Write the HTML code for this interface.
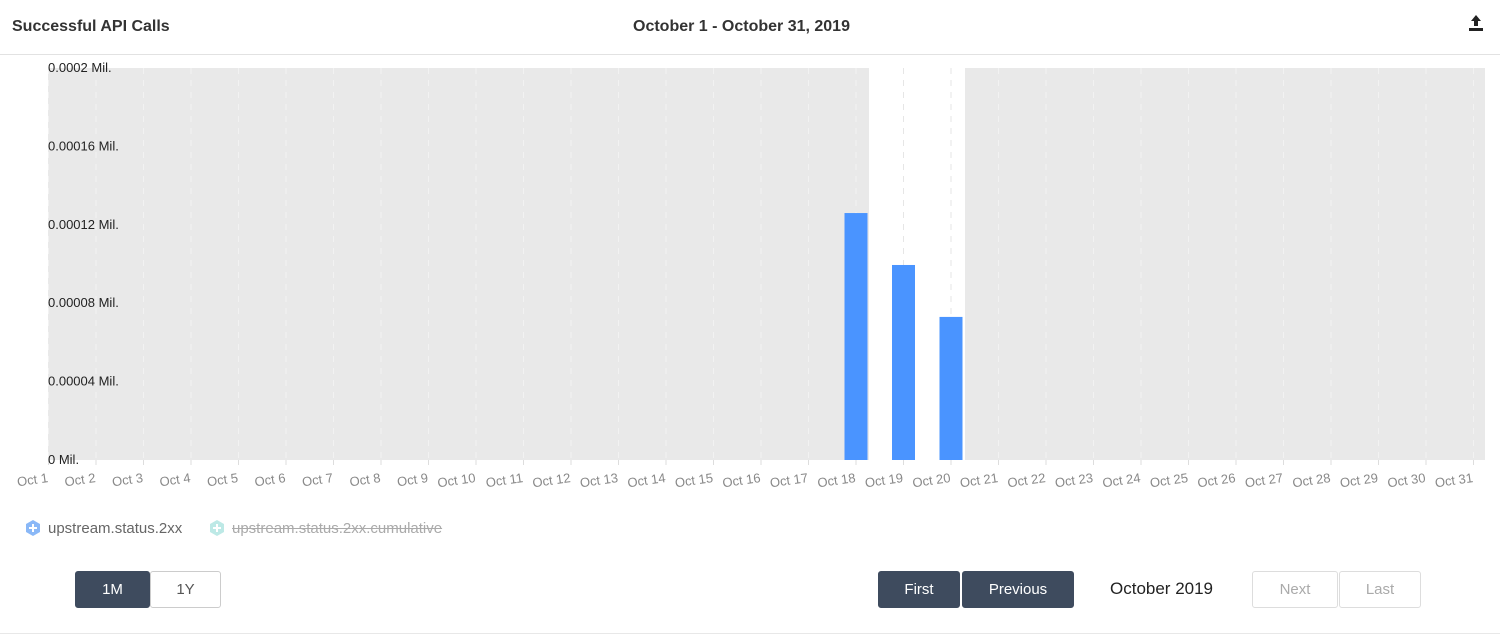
<!DOCTYPE html>
<html><head><meta charset="utf-8"><style>
body{margin:0;width:1500px;height:636px;background:#fff;font-family:"Liberation Sans",sans-serif;overflow:hidden;position:relative}
.t{position:absolute}
.btn{position:absolute;box-sizing:border-box;height:37px;top:571px;font-size:15px;display:flex;align-items:center;justify-content:center;border-radius:3px}
.dark{background:#3e4b5e;color:#fff;border:1px solid #3e4b5e}
.light{background:#fff;color:#555;border:1px solid #ccc}
.dis{background:#fff;color:#aaa;border:1px solid #ddd}
</style></head><body>
<div class="t" style="left:12px;top:18px;font-size:16px;font-weight:bold;color:#333">Successful API Calls</div>
<div class="t" style="left:633px;top:18px;font-size:16px;font-weight:bold;color:#333">October 1 - October 31, 2019</div>
<svg class="t" style="left:1466px;top:13px" width="20" height="20" viewBox="0 0 20 20"><path d="M10 2 L15 8 H12 V13 H8 V8 H5 Z M3 15 H17 V18 H3 Z" fill="#222"/></svg>
<div class="t" style="left:0;top:54px;width:1500px;height:1px;background:#e2e2e2"></div>
<svg class="t" style="left:0;top:0" width="1500" height="500" id="chart"></svg>
<div class="t" style="left:24px;top:519px;font-size:15px;color:#666;display:flex;align-items:center">
<svg width="18" height="18" viewBox="0 0 18 18"><polygon points="9,1 16,5 16,13 9,17 2,13 2,5" fill="#8ab8f7"/><path d="M9 5V13M5 9H13" stroke="#fff" stroke-width="2"/></svg><span style="margin-left:6px">upstream.status.2xx</span></div>
<div class="t" style="left:208px;top:519px;font-size:15px;color:#aaa;display:flex;align-items:center">
<svg width="18" height="18" viewBox="0 0 18 18"><polygon points="9,1 16,5 16,13 9,17 2,13 2,5" fill="#bde9e6"/><path d="M9 5V13M5 9H13" stroke="#fff" stroke-width="2"/></svg><span style="margin-left:6px;text-decoration:line-through">upstream.status.2xx.cumulative</span></div>
<div class="btn dark" style="left:75px;width:75px">1M</div>
<div class="btn light" style="left:150px;width:71px">1Y</div>
<div class="btn dark" style="left:878px;width:82px">First</div>
<div class="btn dark" style="left:962px;width:112px">Previous</div>
<div class="t" style="left:1110px;top:579px;font-size:17px;color:#222">October 2019</div>
<div class="btn dis" style="left:1252px;width:86px">Next</div>
<div class="btn dis" style="left:1339px;width:82px">Last</div>
<div class="t" style="left:0;top:633px;width:1500px;height:1px;background:#e8e8e8"></div>
<script>
const categories=[];for(let d=1;d<=31;d++)categories.push('Oct '+d);
const values=[0,0,0,0,0,0,0,0,0,0,0,0,0,0,0,0,0,0.000126,0.0000995,0.000073,0,0,0,0,0,0,0,0,0,0,0];
const yTicks=[0,0.00004,0.00008,0.00012,0.00016,0.0002];
const yTickLabels=['0 Mil.','0.00004 Mil.','0.00008 Mil.','0.00012 Mil.','0.00016 Mil.','0.0002 Mil.'];
const NS='http://www.w3.org/2000/svg',svg=document.getElementById('chart');
const L=48,R=1485,T=68,B=460,step=47.5;
const x=i=>48.5+i*step, y=v=>B-(v/0.0002)*(B-T);
function mk(t,a){const e=document.createElementNS(NS,t);for(const k in a)e.setAttribute(k,a[k]);svg.appendChild(e);return e;}
let bg=mk('rect',{x:L,y:T,width:869-L,height:B-T,fill:'#e9e9e9'});


let bg2=mk('rect',{x:965,y:T,width:R-965,height:B-T,fill:'#e9e9e9'});


categories.forEach((c,i)=>{
 const g=mk('line',{x1:x(i),x2:x(i),y1:T,y2:B,stroke:(x(i)>869&&x(i)<965)?'#e6e6e6':'#f2f2f2','stroke-dasharray':'6,6'});
 
 
 const tk=mk('line',{x1:x(i),x2:x(i),y1:B,y2:B+5,stroke:'#ddd'});
 
 
 const t=mk('text',{x:x(i),y:B+22,'text-anchor':'end','font-size':13,fill:'#888',transform:`rotate(-8 ${x(i)} ${B+22})`});
 t.textContent=c;
 
 
 if(values[i]>0){const w=23;const b=mk('rect',{x:x(i)-w/2,y:y(values[i]),width:w,height:B-y(values[i]),fill:'#4a94ff'});
 
 }
});
yTicks.forEach((v,i)=>{const t=mk('text',{x:48,y:y(v)+4,'font-size':13,fill:'#222'});t.textContent=yTickLabels[i];
 
 });
</script>
</body></html>
